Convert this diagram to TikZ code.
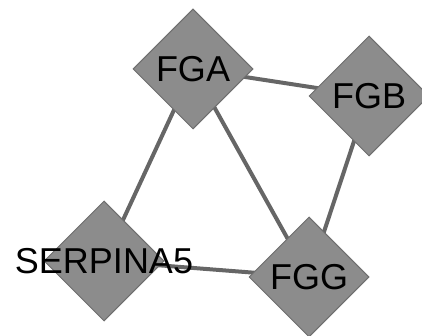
\documentclass[tikz,border=0pt]{standalone}
\usepackage{fontspec}
\setmainfont{Liberation Sans}
\usetikzlibrary{shapes.geometric,backgrounds}
\definecolor{nodefill}{HTML}{8C8C8C}
\definecolor{nodeline}{HTML}{6E6E6E}
\definecolor{edgecol}{HTML}{666666}
\tikzset{
  gene/.style={diamond, draw=nodeline, line width=1pt, fill=nodefill,
    minimum width=120pt, minimum height=120pt, inner sep=0pt, aspect=1},
  genelabel/.style={font=\fontsize{36pt}{36pt}\selectfont, text=black, inner sep=0pt},
  link/.style={draw=edgecol, line width=4pt}
}
\begin{document}
\begin{tikzpicture}[x=1pt,y=-1pt]
  \useasboundingbox (0,0) rectangle (422,336);
  % gene diamonds
  \node[gene] (fga) at (193,69) {};
  \node[gene] (fgb) at (369,96) {};
  \node[gene] (serpina5) at (104,261) {};
  \node[gene] (fgg) at (309,277) {};
  % gene names, allowed to overflow the diamonds
  \node[genelabel] (fgaL) at (fga.center) {FGA};
  \node[genelabel] (fgbL) at (fgb.center) {FGB};
  \node[genelabel] (serpina5L) at (serpina5.center) {SERPINA5};
  \node[genelabel] (fggL) at (fgg.center) {FGG};
  % interactions, behind the diamonds
  \begin{pgfonlayer}{background}
    \draw[link] (fga.center) -- (fgb.center);
    \draw[link] (fga.center) -- (serpina5.center);
    \draw[link] (fga.center) -- (fgg.center);
    \draw[link] (fgb.center) -- (fgg.center);
    \draw[link] (serpina5.center) -- (fgg.center);
  \end{pgfonlayer}
\end{tikzpicture}
\end{document}
